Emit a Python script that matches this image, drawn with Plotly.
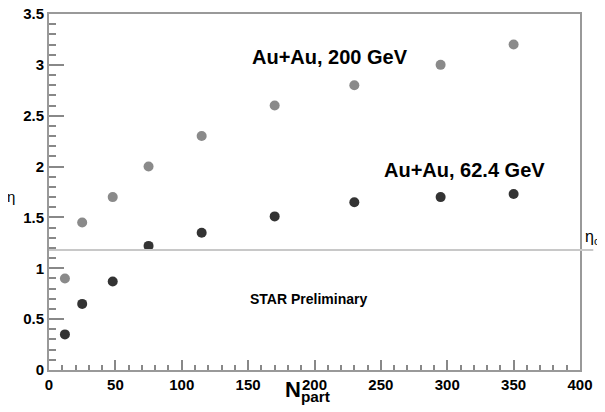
import plotly.graph_objects as go

npart = [12, 25, 48, 75, 115, 170, 230, 295, 350]
eta_200 = [0.90, 1.45, 1.70, 2.00, 2.30, 2.60, 2.80, 3.00, 3.20]
eta_62 = [0.35, 0.65, 0.87, 1.22, 1.35, 1.51, 1.65, 1.70, 1.73]
eta_c = 1.18

x_ticks = [0, 50, 100, 150, 200, 250, 300, 350, 400]
y_ticks = [0, 0.5, 1, 1.5, 2, 2.5, 3, 3.5]

FONT = "Liberation Sans, Arial, Helvetica, sans-serif"

fig = go.Figure()
fig.add_trace(go.Scatter(x=npart, y=eta_200, mode="markers",
                         marker=dict(size=10, color="#8a8a8a"), showlegend=False))
fig.add_trace(go.Scatter(x=npart, y=eta_62, mode="markers",
                         marker=dict(size=10, color="#333333"), showlegend=False))

fig.add_shape(type="line", xref="paper", yref="y", x0=0, x1=1.025, y0=eta_c, y1=eta_c,
              line=dict(color="#c8c8c8", width=2))

fig.add_annotation(x=0.379, y=3.08, xref="paper", yref="y", text="<b>Au+Au, 200 GeV</b>",
                   showarrow=False, xanchor="left", yanchor="middle",
                   font=dict(family=FONT, size=20, color="black"))
fig.add_annotation(x=0.627, y=1.97, xref="paper", yref="y", text="<b>Au+Au, 62.4 GeV</b>",
                   showarrow=False, xanchor="left", yanchor="middle",
                   font=dict(family=FONT, size=20, color="black"))
fig.add_annotation(x=0.375, y=0.70, xref="paper", yref="y", text="<b>STAR Preliminary</b>",
                   showarrow=False, xanchor="left", yanchor="middle",
                   font=dict(family=FONT, size=14, color="black"))
fig.add_annotation(x=-0.072, y=1.71, xref="paper", yref="y", text="η",
                   showarrow=False, xanchor="center", yanchor="middle",
                   font=dict(family=FONT, size=15, color="black"))
fig.add_annotation(x=1.006, y=1.30, xref="paper", yref="y",
                   text="η<sub>c</sub>",
                   showarrow=False, xanchor="left", yanchor="middle",
                   font=dict(family=FONT, size=16, color="black"))
fig.add_annotation(x=0.487, y=-0.014, xref="paper", yref="paper",
                   text="<b>N<sub>part</sub></b>",
                   showarrow=False, xanchor="center", yanchor="top",
                   font=dict(family=FONT, size=22, color="black"))

fig.update_layout(
    width=597, height=404,
    margin=dict(l=41, r=25, t=6, b=42, autoexpand=False),
    paper_bgcolor="white", plot_bgcolor="white",
    font=dict(family=FONT, color="black"),
    xaxis=dict(range=[0, 400], tickvals=x_ticks, ticktext=[f"<b>{v}</b>" for v in x_ticks],
               ticks="inside", ticklen=10, tickwidth=1.5, tickcolor="#888",
               minor=dict(dtick=10, ticks="inside", ticklen=5, tickwidth=1.5, tickcolor="#888"),
               showgrid=False, zeroline=False, showline=True, linecolor="#999", linewidth=2,
               mirror=True, tickfont=dict(size=15, family=FONT), ticklabelstandoff=0,
               automargin=False, ticklabeloverflow="allow"),
    yaxis=dict(range=[0, 3.5], tickvals=y_ticks,
               ticktext=["<b>0</b>", "<b>0.5</b>", "<b>1</b>", "<b>1.5</b>", "<b>2</b>",
                         "<b>2.5</b>", "<b>3</b>", "<b>3.5</b>"],
               ticks="inside", ticklen=15, tickwidth=1.5, tickcolor="#888",
               minor=dict(dtick=0.1, ticks="inside", ticklen=7, tickwidth=1.5, tickcolor="#888"),
               showgrid=False, zeroline=False, showline=True, linecolor="#999", linewidth=2,
               mirror=True, tickfont=dict(size=15, family=FONT), ticklabelstandoff=0,
               automargin=False, ticklabeloverflow="allow"),
)

fig.write_html("out.html")
